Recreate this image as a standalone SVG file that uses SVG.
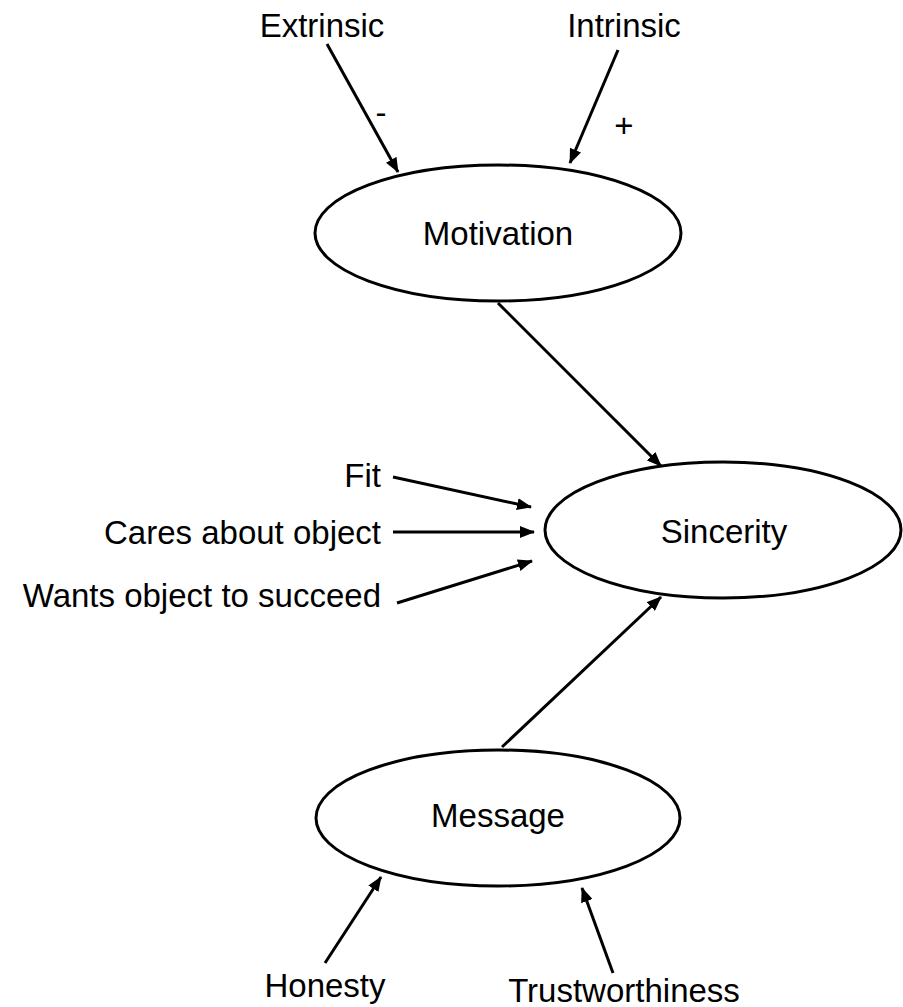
<svg xmlns="http://www.w3.org/2000/svg" width="903" height="1007" viewBox="0 0 903 1007">
<style>
text{font-family:"Liberation Sans",Arial,Helvetica,sans-serif;font-size:33px;fill:#000}
.node ellipse{fill:#fff;stroke:#000;stroke-width:3}
.conn line{stroke:#000;stroke-width:3;marker-end:url(#arr)}
</style>
<defs>
<marker id="arr" markerUnits="userSpaceOnUse" markerWidth="15" markerHeight="12" refX="14" refY="6" orient="auto">
<path d="M0,0 L15,6 L0,12 z" fill="#000"/>
</marker>
</defs>
<rect width="903" height="1007" fill="#fff"/>
<g id="connectors" class="conn">
<line x1="327" y1="44" x2="398" y2="172"/>
<line x1="618" y1="50" x2="570" y2="163"/>
<line x1="498" y1="303" x2="661" y2="466"/>
<line x1="393" y1="477" x2="531" y2="507"/>
<line x1="393" y1="532" x2="534" y2="532"/>
<line x1="397" y1="603" x2="532" y2="561"/>
<line x1="502" y1="747" x2="661" y2="597"/>
<line x1="325" y1="963" x2="381" y2="877"/>
<line x1="613" y1="973" x2="582" y2="888"/>
</g>
<g id="extrinsic"><text x="322" y="37" text-anchor="middle">Extrinsic</text></g>
<g id="intrinsic"><text x="624" y="37" text-anchor="middle">Intrinsic</text></g>
<g id="minus"><text x="381" y="124" text-anchor="middle">-</text></g>
<g id="plus"><text x="624" y="137" text-anchor="middle">+</text></g>
<g id="motivation" class="node"><ellipse cx="498" cy="233" rx="183" ry="68"/><text x="498" y="245" text-anchor="middle">Motivation</text></g>
<g id="sincerity" class="node"><ellipse cx="723" cy="530" rx="178" ry="68"/><text x="724" y="543" text-anchor="middle">Sincerity</text></g>
<g id="message" class="node"><ellipse cx="498" cy="818" rx="182" ry="68"/><text x="498" y="827" text-anchor="middle">Message</text></g>
<g id="fit"><text x="381" y="487" text-anchor="end">Fit</text></g>
<g id="cares"><text x="381" y="544" text-anchor="end">Cares about object</text></g>
<g id="wants"><text x="381" y="607" text-anchor="end">Wants object to succeed</text></g>
<g id="honesty"><text x="325" y="997" text-anchor="middle">Honesty</text></g>
<g id="trust"><text x="624" y="1002" text-anchor="middle">Trustworthiness</text></g>
</svg>
